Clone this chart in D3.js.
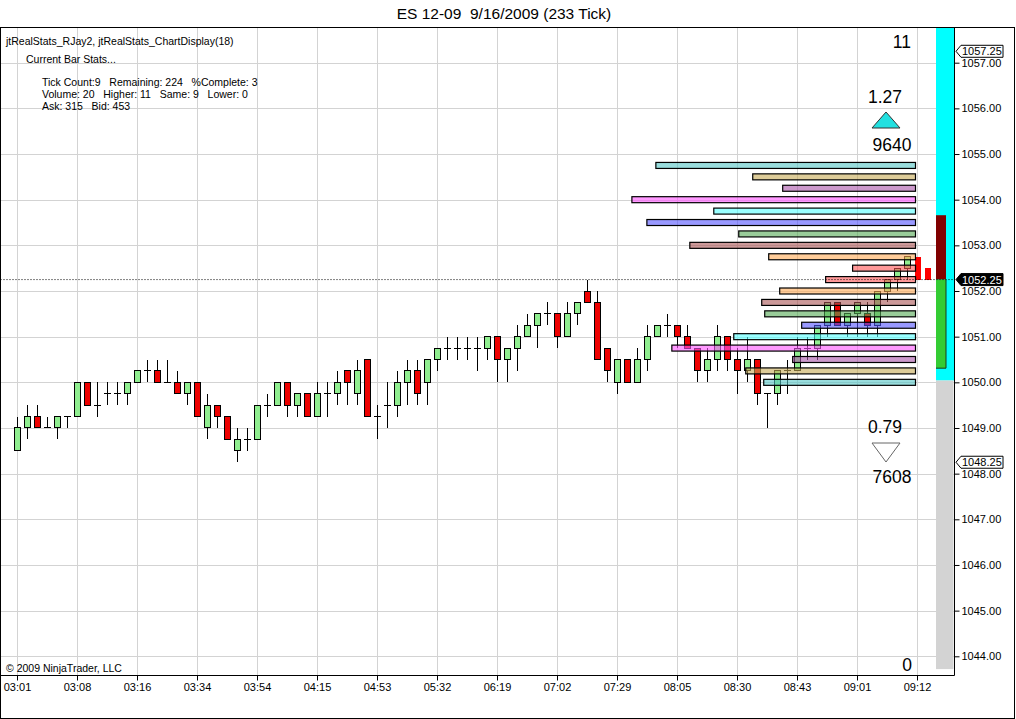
<!DOCTYPE html>
<html>
<head>
<meta charset="utf-8">
<script src="https://cdn.jsdelivr.net/npm/d3@7"></script>
<style>
html, body { margin: 0; padding: 0; background: #fff; }
svg { display: block; font-family: "Liberation Sans", Arial, sans-serif; }
text { white-space: pre; }
</style>
</head>
<body>
<svg id="chart"></svg>
<script>
// ---- data (233 tick bars, ES 12-09, 9/16/2009) ----
const open  = [1048.5,1049,1049.25,1049,1049,1049.25,1049.25,1050,1049.5,1049.75,1049.75,1049.75,1050,1050.25,1050.25,1050,1050,1049.75,1050,1049,
               1049.5,1049.25,1048.5,1048.75,1048.75,1049.5,1049.5,1050,1049.5,1049.75,1049.25,1049.75,1049.75,1050.25,1049.75,1050.5,1049.25,1049.5,1049.5,1050,
               1050.25,1050,1050.5,1050.75,1050.75,1050.75,1050.75,1050.75,1051,1050.5,1050.75,1051,1051.25,1051.5,1051.5,1051,1051.5,1052,1051.75,1050.75,
               1050,1050.5,1050,1050.5,1051,1051.25,1051.25,1051,1050.75,1050.25,1050.5,1051,1050.5,1050.25,1050.5,1049.75,1049.75,1050.25,1050.25,1050.75,
               1050.75,1051.25,1051.75,1051.25,1051.5,1051.5,1051.25,1052,1052.25,1052.5,1052.75,1052.5];
const high  = [1049.25,1049.5,1049.5,1049.25,1049.25,1049.25,1050,1050,1050,1050,1050,1050,1050.25,1050.5,1050.5,1050.5,1050.25,1050,1050,1049.75,
               1049.5,1049.25,1049,1049,1049.5,1049.75,1050,1050,1049.75,1049.75,1050,1050,1050.25,1050.25,1050.5,1050.5,1049.5,1050,1050.25,1050.5,
               1050.5,1050.5,1050.75,1051,1051,1051,1051,1051,1051,1050.75,1051.25,1051.5,1051.5,1051.75,1051.5,1051.75,1051.75,1052.25,1052,1050.75,
               1050.5,1050.5,1050.75,1051.25,1051.25,1051.5,1051.25,1051.25,1050.75,1050.75,1051.25,1051,1050.75,1051,1050.5,1049.75,1050.25,1050.5,1051,1051,
               1051.25,1051.75,1051.75,1051.5,1051.75,1051.75,1052,1052.25,1052.5,1052.75,1052.75,1052.5];
const low   = [1048.5,1048.75,1049,1049,1048.75,1049,1049.25,1049.5,1049.25,1049.5,1049.5,1049.5,1050,1050,1050,1050,1049.75,1049.5,1049.25,1048.75,
               1049,1048.75,1048.25,1048.5,1048.75,1049.25,1049.5,1049.25,1049.25,1049.25,1049.25,1049.25,1049.5,1049.5,1049.5,1049.25,1048.75,1049,1049.25,1049.5,
               1049.5,1049.5,1050.25,1050.5,1050.5,1050.5,1050.25,1050.5,1050,1050,1050.25,1051,1050.75,1051.25,1050.75,1051,1051.25,1051.75,1050.5,1050,
               1049.75,1050,1050,1050.25,1051,1051,1050.75,1050.75,1050,1050,1050.25,1050.25,1049.75,1050,1049.5,1049,1049.5,1049.75,1050.25,1050.5,
               1050.5,1051,1051.25,1051,1051,1051,1051,1051.75,1052,1052.25,1052.25,1052.25];
const close = [1049,1049.25,1049,1049,1049.25,1049.25,1050,1049.5,1049.5,1049.75,1049.75,1050,1050.25,1050.25,1050,1050,1049.75,1050,1049.25,1049.5,
               1049.25,1048.75,1048.75,1048.75,1049.5,1049.5,1050,1049.5,1049.75,1049.25,1049.75,1049.75,1050,1050,1050.25,1049.25,1049.25,1049.5,1050,1050.25,
               1049.75,1050.5,1050.75,1050.75,1050.75,1050.75,1050.75,1051,1050.5,1050.75,1051,1051.25,1051.5,1051.5,1051,1051.5,1051.75,1051.75,1050.5,1050.25,
               1050.5,1050,1050.5,1051,1051.25,1051.25,1051,1050.75,1050.25,1050.5,1051,1050.5,1050.25,1050.5,1049.75,1049.75,1050.25,1050.25,1050.75,1050.75,
               1051.25,1051.75,1051.25,1051.5,1051.75,1051.25,1052,1052.25,1052.5,1052.75,1052.25,1052.25];
const liveBars = [90, 91];   // bars painted without outline at the right edge

const tickIndex  = [0, 6, 12, 18, 24, 30, 36, 42, 48, 54, 60, 66, 72, 78, 84, 90];
const tickLabels = ["03:01","03:08","03:16","03:34","03:54","04:15","04:53","05:32","06:19","07:02","07:29","08:05","08:30","08:43","09:01","09:12"];
const priceTicks = d3.range(1044, 1058);

// volume profile (right side)
const profilePrices  = [1054.75,1054.5,1054.25,1054,1053.75,1053.5,1053.25,1053,1052.75,1052.5,
                        1052.25,1052,1051.75,1051.5,1051.25,1051,1050.75,1050.5,1050.25,1050];
const profileVolumes = [260,163,133,284,202,269,177,226,147,63,90,136,154,151,114,182,244,123,170,152];
const profileColors  = ["#55c6c6","#c6aa55","#aa55aa","#ff55ff","#55ffff","#5555ff","#55aa55","#aa5555","#ffaa55","#ff5555",
                        "#ff5555","#ffaa55","#aa5555","#55aa55","#5555ff","#55ffff","#ff55ff","#aa55aa","#c6aa55","#55c6c6"];

// pressure column at the right edge: [from, to, colour, narrow]
const columnSegments = [
  [1050.04, 1057.8, "#00ffff", false],
  [1043.72, 1050.04, "#d3d3d3", false],
  [1052.25, 1053.66, "#800000", true],
  [1050.31, 1052.25, "#33cc33", true]
];

const lastPrice = 1052.25, sessionHigh = 1057.25, sessionLow = 1048.25;
const statsLines = ["Tick Count:9   Remaining: 224   %Complete: 3",
                    "Volume: 20   Higher: 11   Same: 9   Lower: 0",
                    "Ask: 315   Bid: 453"];

// ---- layout ----
const W = 1016, H = 719;
const plot = { left: 0.5, top: 27.5, right: 954.5, bottom: 675.5 };

const svg = d3.select("#chart").attr("width", W).attr("height", H);
svg.append("rect").attr("width", W).attr("height", H).attr("fill", "#fff");

const x = d3.scaleLinear().domain([0, 90]).range([17, 917]);
const y = d3.scaleLinear().domain([1044, 1057]).range([656.3, 62.7]);

svg.append("defs").append("clipPath").attr("id", "clip")
  .append("rect").attr("x", plot.left).attr("y", plot.top)
  .attr("width", plot.right - plot.left).attr("height", plot.bottom - plot.top);

// title
svg.append("text").attr("x", 504).attr("y", 19).attr("text-anchor", "middle")
  .attr("font-size", 15.5).text("ES 12-09  9/16/2009 (233 Tick)");

const g = svg.append("g").attr("clip-path", "url(#clip)");

// grid
g.append("g").selectAll("line").data(tickIndex).join("line")
  .attr("x1", d => Math.round(x(d)) + 0.5).attr("x2", d => Math.round(x(d)) + 0.5)
  .attr("y1", plot.top).attr("y2", plot.bottom)
  .attr("stroke", "#d3d3d3");
g.append("g").selectAll("line").data(priceTicks).join("line")
  .attr("x1", plot.left).attr("x2", plot.right)
  .attr("y1", d => Math.round(y(d)) + 0.5).attr("y2", d => Math.round(y(d)) + 0.5)
  .attr("stroke", "#d3d3d3");

// right column
g.append("g").selectAll("rect").data(columnSegments).join("rect")
  .attr("x", 936).attr("width", d => d[3] ? 10 : (d[2] === "#d3d3d3" ? 17.5 : 19))
  .attr("y", d => y(d[1])).attr("height", d => y(d[0]) - y(d[1]))
  .attr("fill", d => d[2]);
const green = columnSegments[3];
g.append("path")
  .attr("d", `M946,${y(green[1])}V${y(green[0])}H936`)
  .attr("fill", "none").attr("stroke", "#1a3a1a");

// candles
const bars = d3.range(open.length).map(i => ({
  i, o: open[i], h: high[i], l: low[i], c: close[i], live: liveBars.includes(i)
}));
const upCol = "#90ee90", downCol = "#ee0000";
const candle = g.append("g").attr("shape-rendering", "crispEdges")
  .selectAll("g").data(bars).join("g");

candle.filter(d => !d.live).append("line")
  .attr("x1", d => x(d.i)).attr("x2", d => x(d.i))
  .attr("y1", d => y(d.h)).attr("y2", d => y(d.l))
  .attr("stroke", "#000");
candle.filter(d => !d.live && d.o !== d.c).append("rect")
  .attr("x", d => x(d.i) - 3).attr("width", 6)
  .attr("y", d => y(Math.max(d.o, d.c)))
  .attr("height", d => Math.abs(y(d.o) - y(d.c)))
  .attr("fill", d => d.c > d.o ? upCol : downCol)
  .attr("stroke", "#000");
candle.filter(d => !d.live && d.o === d.c).append("line")
  .attr("x1", d => x(d.i) - 3.5).attr("x2", d => x(d.i) + 3.5)
  .attr("y1", d => y(d.o)).attr("y2", d => y(d.o))
  .attr("stroke", "#000");
candle.filter(d => d.live).append("rect")
  .attr("x", d => x(d.i) - 2 + (d.i - 90) * -0.5).attr("width", 6)
  .attr("y", d => y(d.h)).attr("height", d => y(d.l) - y(d.h))
  .attr("fill", "#f00");

// volume profile
const profileRight = x(90) - 1.5;
const vol = d3.scaleLinear().domain([0, 284]).range([0, 283.6]);
g.append("g").selectAll("rect")
  .data(profilePrices.map((p, k) => ({ p, v: profileVolumes[k], c: profileColors[k] })))
  .join("rect")
  .attr("x", d => profileRight - vol(d.v)).attr("width", d => vol(d.v))
  .attr("y", d => y(d.p) - 3).attr("height", 6)
  .attr("fill", d => d.c).attr("fill-opacity", 0.6)
  .attr("stroke", "#000").attr("stroke-width", 1.2);

// last price line
g.append("line").attr("x1", plot.left).attr("x2", plot.right)
  .attr("y1", y(lastPrice)).attr("y2", y(lastPrice))
  .attr("stroke", "#000").attr("stroke-dasharray", "1,2");

// indicator readouts
const big = svg.append("g").attr("font-size", 17.5).attr("fill", "#000");
big.append("text").attr("x", 911).attr("y", 48).attr("text-anchor", "end").text("11");
big.append("text").attr("x", 885).attr("y", 103).attr("text-anchor", "middle").text("1.27");
big.append("text").attr("x", 892).attr("y", 151).attr("text-anchor", "middle").text("9640");
big.append("text").attr("x", 885).attr("y", 433).attr("text-anchor", "middle").text("0.79");
big.append("text").attr("x", 892).attr("y", 483).attr("text-anchor", "middle").text("7608");
big.append("text").attr("x", 912).attr("y", 671).attr("text-anchor", "end").text("0");
svg.append("path").attr("d", "M886,112L900,128H872Z").attr("fill", "#22e0e0").attr("stroke", "#333");
svg.append("path").attr("d", "M872,443H900L886,462Z").attr("fill", "#fff").attr("stroke", "#666");

// upper-left labels
const info = svg.append("g").attr("font-size", 10.5);
info.append("text").attr("x", 6).attr("y", 45).text("jtRealStats_RJay2, jtRealStats_ChartDisplay(18)");
info.append("text").attr("x", 26).attr("y", 63).text("Current Bar Stats...");
info.selectAll(".st").data(statsLines).join("text").attr("class", "st")
  .attr("x", 42).attr("y", (d, k) => 86 + k * 12).text(d => d);
svg.append("text").attr("x", 6).attr("y", 672).attr("font-size", 10.5).text("\u00a9 2009 NinjaTrader, LLC");

// frames
svg.append("rect").attr("x", 0.5).attr("y", 27.5).attr("width", 1014).attr("height", 691)
  .attr("fill", "none").attr("stroke", "#000");
svg.append("path").attr("d", `M${plot.right},${plot.top}V${plot.bottom}H${plot.left}`)
  .attr("fill", "none").attr("stroke", "#000");

// axes
const yAxis = svg.append("g").attr("transform", `translate(${plot.right},0)`)
  .call(d3.axisRight(y).tickValues(priceTicks).tickFormat(d3.format(".2f")).tickSize(5).tickPadding(2));
const xAxis = svg.append("g").attr("transform", `translate(0,${plot.bottom})`)
  .call(d3.axisBottom(x).tickValues(tickIndex).tickFormat((d, k) => tickLabels[k]).tickSize(5).tickPadding(3));
[yAxis, xAxis].forEach(a => {
  a.select(".domain").remove();
  a.selectAll("text").attr("font-size", 11).attr("font-family", "Liberation Sans, Arial, sans-serif").attr("fill", "#000");
  a.selectAll("line").attr("stroke", "#000");
});

// price markers on the axis
function marker(price, dark) {
  const cy = y(price);
  const m = svg.append("g");
  m.append("path")
    .attr("d", `M${plot.right + 1.5},${cy}L${plot.right + 6.5},${cy - 6}H1003V${cy + 6}H${plot.right + 6.5}Z`)
    .attr("fill", dark ? "#000" : "#fff").attr("stroke", "#000");
  m.append("text").attr("x", 962).attr("y", cy + 4).attr("font-size", 11)
    .attr("fill", dark ? "#fff" : "#000").text(d3.format(".2f")(price));
}
marker(sessionHigh, false);
marker(sessionLow, false);
marker(lastPrice, true);
</script>
</body>
</html>
